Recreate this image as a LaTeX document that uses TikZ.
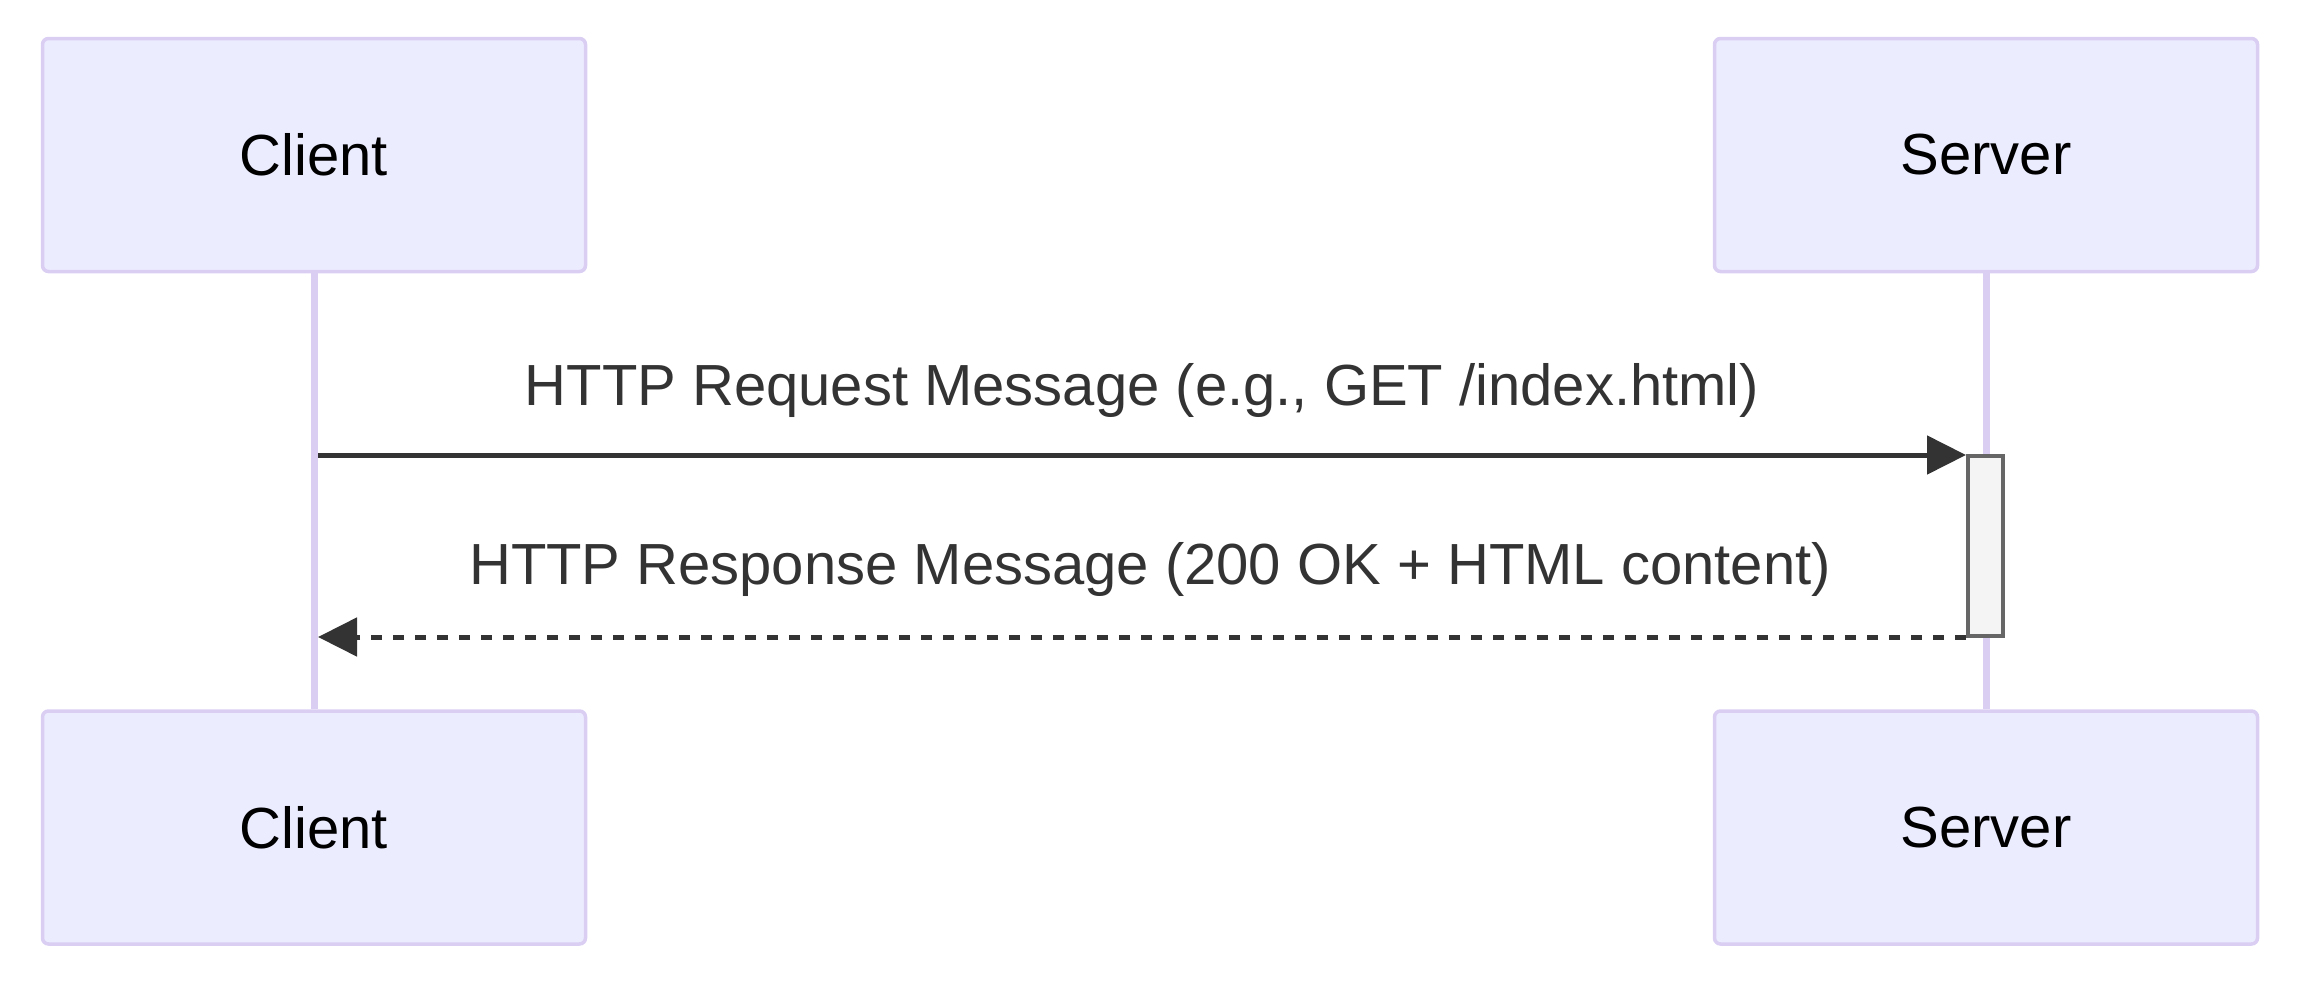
\documentclass[tikz,border=0pt]{standalone}
\usepackage{fontspec}
\setmainfont{Liberation Sans}
\usepackage{tikz}
\usetikzlibrary{calc}
\usetikzlibrary{positioning,arrows.meta}

\definecolor{actorfill}{HTML}{ECECFF}
\definecolor{actorline}{HTML}{DACEF3}
\definecolor{msgline}{HTML}{333333}
\definecolor{actfill}{HTML}{F4F4F4}
\definecolor{actline}{HTML}{666666}

\begin{document}
\begin{tikzpicture}[>={Triangle[length=0.39cm,width=0.38cm]},
	actor/.style={rectangle,rounded corners=0.06cm,draw=actorline,fill=actorfill,line width=0.035cm,minimum width=5.43cm,minimum height=2.33cm,font=\fontsize{16.5}{20}\selectfont,text=black},
	lifeline/.style={draw=actorline,line width=0.07cm},
	activation/.style={rectangle,draw=actline,fill=actfill,line width=0.04cm,minimum width=0.35cm,minimum height=1.8cm,inner sep=0pt},
	msg/.style={->,draw=msgline,line width=0.05cm},
	reply/.style={msg,dash pattern=on 0.11cm off 0.11cm},
	msglabel/.style={anchor=base,text=msgline,font=\fontsize{16.5}{20}\selectfont,inner sep=0pt},
	]
	\useasboundingbox (0,0) rectangle (23,-9.9);

	\node[actor] (clienttop) at (3.14,-1.55) {Client};
	\node[actor] (servertop) at (19.86,-1.55) {Server};
	\node[actor] (clientbot) at (3.14,-8.275) {Client};
	\node[actor] (serverbot) at (19.86,-8.275) {Server};

	% lifelines
	\draw[lifeline] (clienttop.south) -- (clientbot.north);
	\draw[lifeline] (servertop.south) -- (serverbot.north);

	\node[activation] (act) at (19.855,-5.46) {};

	\coordinate (reqstart) at (3.18,-4.55);
	\coordinate (respend) at (3.18,-6.37);

	\draw[msg] (reqstart) -- node[msglabel,yshift=0.5cm] {HTTP Request Message (e.g., GET /index.html)} (reqstart -| act.west);
	\draw[reply] (respend -| act.west) -- node[msglabel,yshift=0.53cm,xshift=0.08cm] {HTTP Response Message (200 OK + HTML content)} (respend);

\end{tikzpicture}
\end{document}
